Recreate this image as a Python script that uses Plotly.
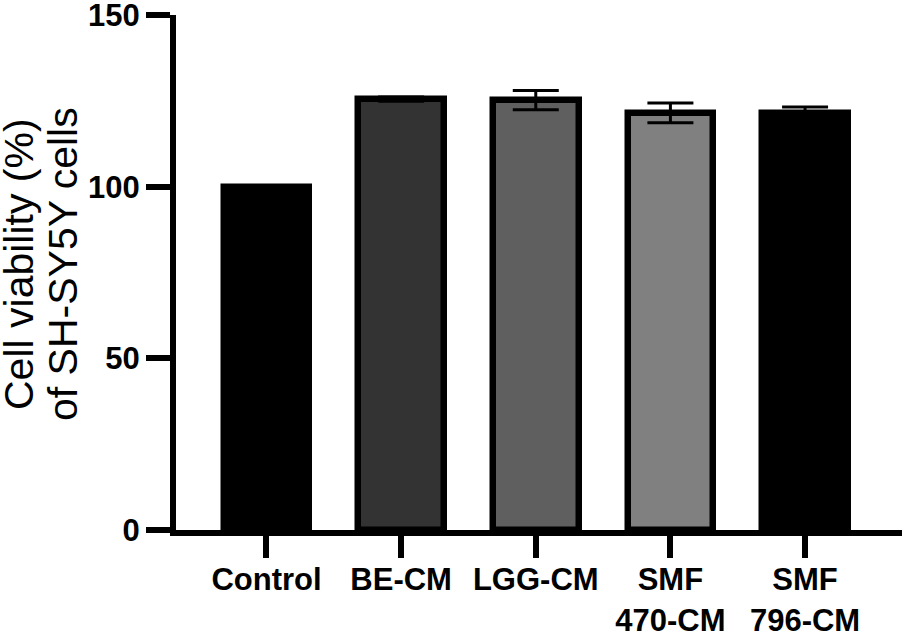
import plotly.graph_objects as go

categories = ["Control", "BE-CM", "LGG-CM", "SMF<br>470-CM", "SMF<br>796-CM"]
means = [100, 125.5, 125.2, 121.5, 121.6]
errors = [0, 0.6, 2.8, 2.9, 1.6]
fill_colors = ["#000000", "#333333", "#5f5f5f", "#808080", "#000000"]
y_ticks = [0, 50, 100, 150]
y_title_lines = ["Cell viability (%)", "of SH-SY5Y cells"]

x_pos = list(range(len(categories)))

fig = go.Figure()
fig.add_trace(go.Bar(
    x=x_pos, y=means, width=0.635,
    marker=dict(color=fill_colors, line=dict(color="black", width=6.5)),
    error_y=dict(type="data", array=errors, visible=True, color="black",
                 thickness=3, width=23),
    showlegend=False,
))

font_family = "Liberation Sans, Arial, sans-serif"
W, H = 902, 637
ML, MR, MT, MB = 176, 0, 15, 107
fig.update_layout(
    width=W, height=H,
    margin=dict(l=ML, r=MR, t=MT, b=MB),
    paper_bgcolor="white", plot_bgcolor="white",
    bargap=0,
)
fig.update_xaxes(
    range=[-0.672, 4.72],
    tickmode="array", tickvals=x_pos, ticktext=categories,
    showline=True, linecolor="black", linewidth=6,
    ticks="outside", ticklen=22, tickwidth=6, tickcolor="black",
    tickfont=dict(family=font_family, size=31, color="black", weight="bold"),
    ticklabeloverflow="allow", automargin=False, ticklabelstandoff=-5,
    showgrid=False, zeroline=False,
)
fig.update_yaxes(
    range=[0, 150],
    tickmode="array", tickvals=y_ticks, ticktext=[str(v) for v in y_ticks],
    showline=True, linecolor="black", linewidth=6,
    ticks="outside", ticklen=24, tickwidth=6, tickcolor="black",
    tickfont=dict(family=font_family, size=31, color="black", weight="bold"),
    ticklabeloverflow="allow", automargin=False,
    showgrid=False, zeroline=False,
)

plot_w = W - ML - MR
plot_h = H - MT - MB
title_px = [19, 63]
for line, px in zip(y_title_lines, title_px):
    fig.add_annotation(
        text=line, textangle=-90,
        xref="paper", yref="paper",
        x=(px - ML) / plot_w, y=(H - MB - 264) / plot_h,
        xanchor="center", yanchor="middle", showarrow=False,
        font=dict(family=font_family, size=41, color="black"),
    )

fig.write_html(
    "out.html",
    config={"displayModeBar": False},
    post_script="document.body.style.margin='0';document.body.style.padding='0';document.body.style.overflow='hidden';",
)
